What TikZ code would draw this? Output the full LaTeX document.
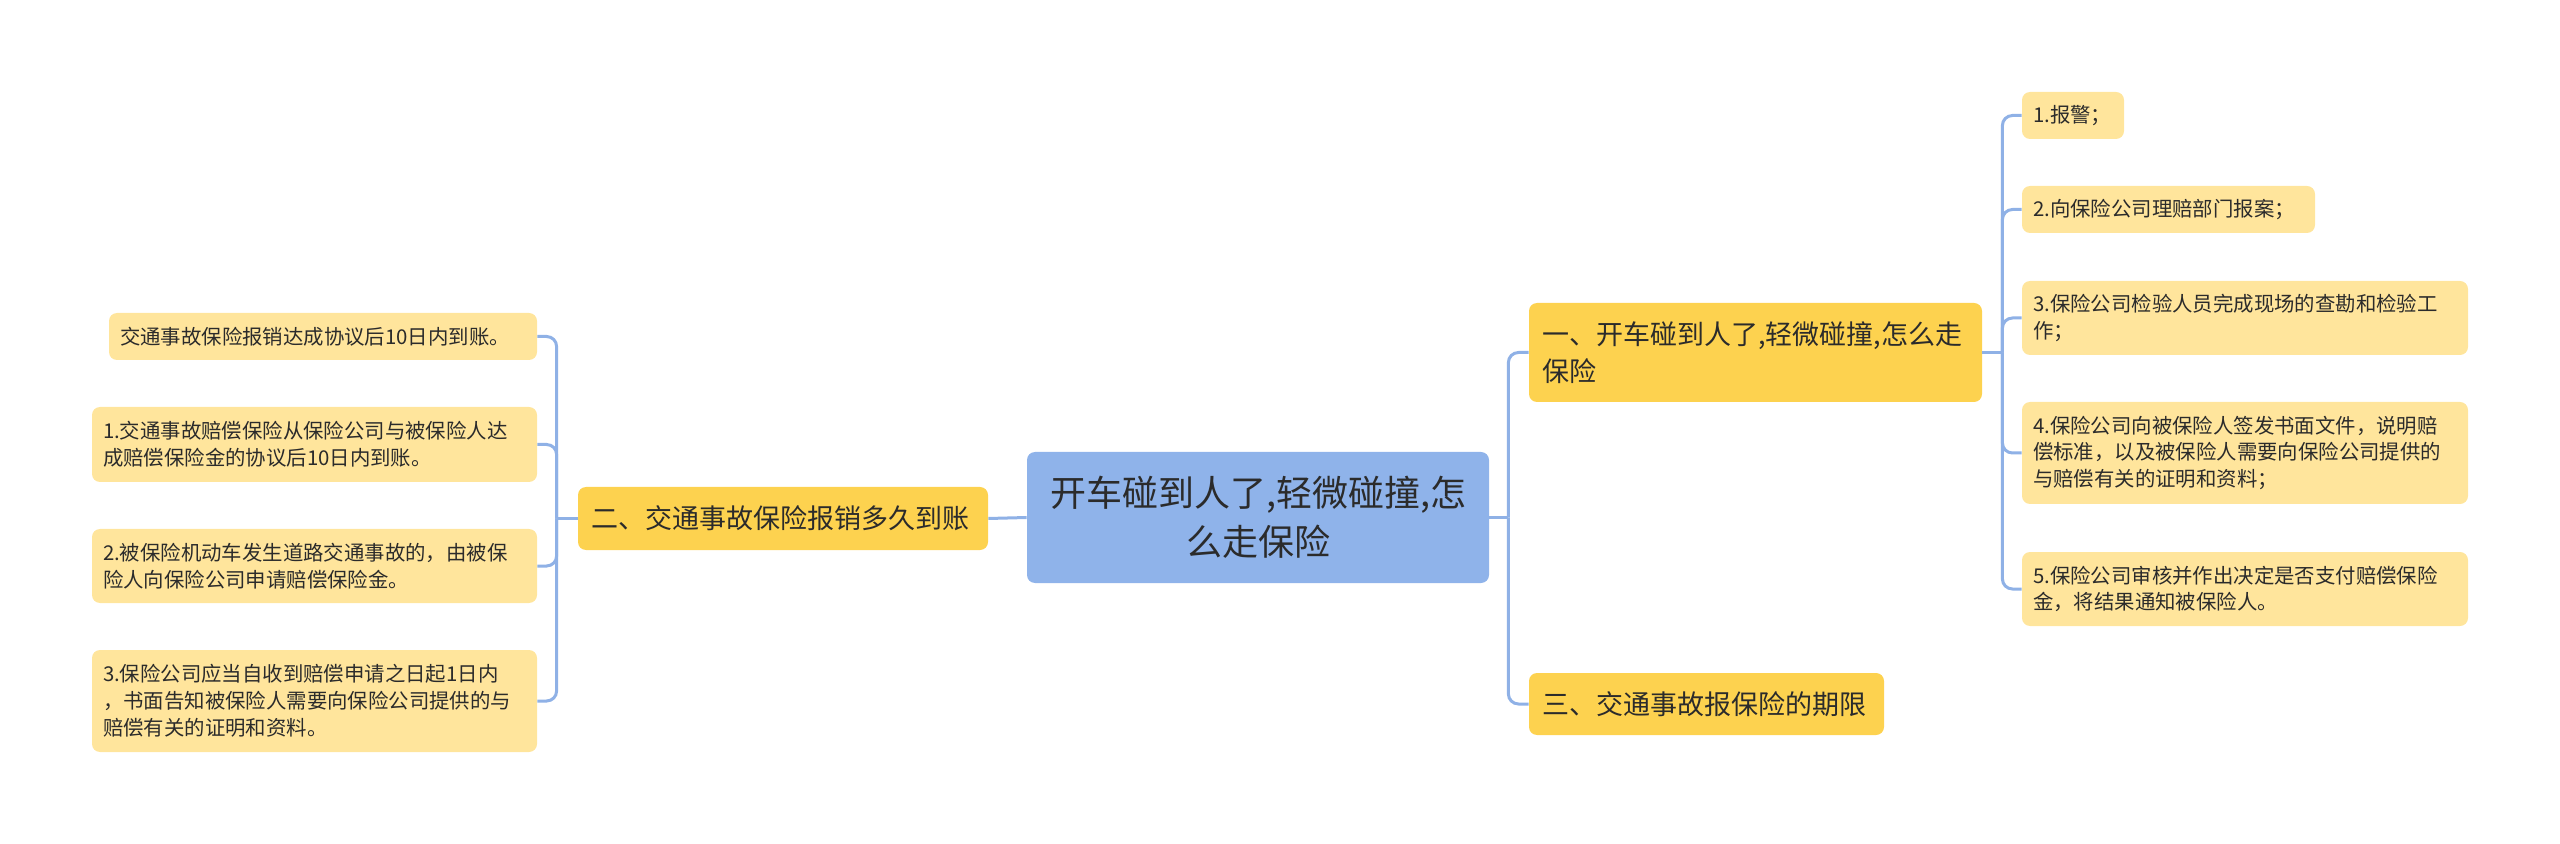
\documentclass[tikz,border=0pt]{standalone}
\usepackage{fontspec}
\usetikzlibrary{calc}
\newfontfamily\cjk{Noto Sans CJK SC}
\definecolor{rootblue}{HTML}{8FB3EA}
\definecolor{branchyellow}{HTML}{FDD24F}
\definecolor{leafyellow}{HTML}{FFE59C}
\definecolor{linkblue}{HTML}{8FB1E6}
\definecolor{inkgray}{HTML}{2B2B2B}

\begin{document}
\begin{tikzpicture}[x=0.5pt, y=-0.5pt,
  root/.style={fill=rootblue, rounded corners=4pt, text=inkgray, align=center,
    inner xsep=6.5pt, inner ysep=0pt, font={\cjk\fontsize{18}{24.5}\selectfont}},
  branch/.style={fill=branchyellow, rounded corners=4pt, text=inkgray, align=left,
    inner xsep=6.5pt, inner ysep=0pt, font={\cjk\fontsize{13.5}{18.5}\selectfont}},
  leaf/.style={fill=leafyellow, rounded corners=4pt, text=inkgray, align=left,
    inner xsep=5.5pt, inner ysep=0pt, font={\cjk\fontsize{10.2}{13.4}\selectfont}},
  link/.style={draw=linkblue, line width=1.5pt, rounded corners=5pt}]
  \useasboundingbox (0,0) rectangle (2560,844);

  % centre
  \node[root, text width=218pt, minimum height=65.5pt] (root) at (1258,517.5)
    {开车碰到人了,轻微碰撞,怎\\么走保险};

  % branches
  \node[branch, text width=192pt, minimum height=31.5pt] (tolong) at (783,518.5)
    {二、交通事故保险报销多久到账};
  \node[branch, text width=213.5pt, minimum height=49.5pt] (howto) at (1755.5,352.5)
    {一、开车碰到人了,轻微碰撞,怎么走\\保险};
  \node[branch, text width=164.5pt, minimum height=31pt] (limit) at (1706.5,704)
    {三、交通事故报保险的期限};

  % left leaves
  \node[leaf, text width=203pt, minimum height=23.5pt] (pay0) at (323,336.5)
    {交通事故保险报销达成协议后10日内到账。};
  \node[leaf, text width=211.5pt, minimum height=37.5pt] (pay1) at (314.5,444.5)
    {1.交通事故赔偿保险从保险公司与被保险人达\\成赔偿保险金的协议后10日内到账。};
  \node[leaf, text width=211.5pt, minimum height=37pt] (pay2) at (314.5,566)
    {2.被保险机动车发生道路交通事故的，由被保\\险人向保险公司申请赔偿保险金。};
  \node[leaf, text width=211.5pt, minimum height=51pt] (pay3) at (314.5,701)
    {3.保险公司应当自收到赔偿申请之日起1日内\\，书面告知被保险人需要向保险公司提供的与\\赔偿有关的证明和资料。};

  % right leaves
  \node[leaf, text width=40pt, minimum height=23.5pt] (proc1) at (2073,115.5)
    {1.报警；};
  \node[leaf, text width=135.5pt, minimum height=23.5pt] (proc2) at (2168.5,209.5)
    {2.向保险公司理赔部门报案；};
  \node[leaf, text width=212pt, minimum height=37pt] (proc3) at (2245,318)
    {3.保险公司检验人员完成现场的查勘和检验工\\作；};
  \node[leaf, text width=212pt, minimum height=51pt] (proc4) at (2245,453)
    {4.保险公司向被保险人签发书面文件，说明赔\\偿标准，以及被保险人需要向保险公司提供的\\与赔偿有关的证明和资料；};
  \node[leaf, text width=212pt, minimum height=37pt] (proc5) at (2245,589)
    {5.保险公司审核并作出决定是否支付赔偿保险\\金，将结果通知被保险人。};

  % connectors
  \coordinate (jL) at ($(tolong.west)+(-21,0)$);
  \coordinate (jR) at ($(root.east)+(19,0)$);
  \coordinate (jH) at ($(howto.east)+(20,0)$);

  \draw[link] (root.west) -- (tolong.east);
  \draw[link] (tolong.west) -- (jL);
  \foreach \n in {pay0,pay1,pay2,pay3}
    \draw[link] (jL) |- (\n.east);

  \draw[link] (root.east) -- (jR);
  \draw[link] (jR) |- (howto.west);
  \draw[link] (jR) |- (limit.west);

  \draw[link] (howto.east) -- (jH);
  \foreach \n in {proc1,proc2,proc3,proc4,proc5}
    \draw[link] (jH) |- (\n.west);
\end{tikzpicture}
\end{document}
